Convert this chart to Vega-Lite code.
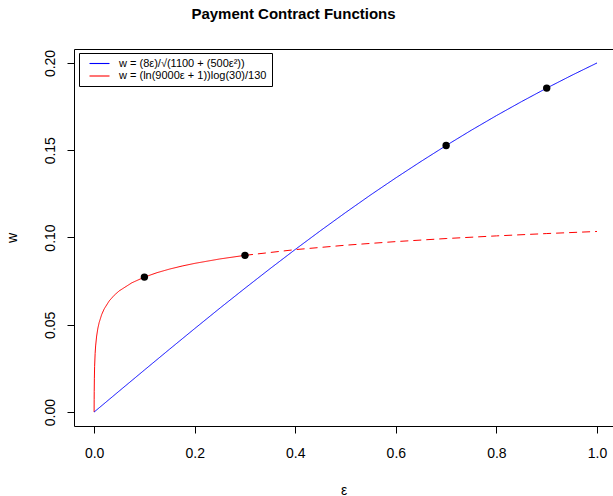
{
  "$schema": "https://vega.github.io/schema/vega-lite/v6.json",
  "autosize": "none",
  "width": 539,
  "height": 377,
  "padding": {"left": 74, "top": 49, "right": 0, "bottom": 70},
  "background": "white",
  "config": {
    "font": "Liberation Sans",
    "view": {"stroke": "black", "strokeWidth": 1},
    "axis": {"grid": false, "domain": false, "tickColor": "black", "tickSize": 7, "labelColor": "black", "labelFontSize": 14, "titleFontSize": 14, "titleFontWeight": "normal", "titleColor": "black", "labelFont": "Liberation Sans", "titleFont": "Liberation Sans"}
  },
  "title": {"text": "Payment Contract Functions", "fontSize": 15, "fontWeight": "bold", "font": "Liberation Sans", "anchor": "middle", "dx": -50, "dy": 14, "offset": 29, "baseline": "alphabetic", "color": "black"},
  "datasets": {
    "curves": [
      {"e": 0, "w": 0, "series": "w = (ln(9000ε + 1))log(30)/130", "seg": "solid"},
      {"e": 0.0001, "w": 0.007293, "series": "w = (ln(9000ε + 1))log(30)/130", "seg": "solid"},
      {"e": 0.0002, "w": 0.011699, "series": "w = (ln(9000ε + 1))log(30)/130", "seg": "solid"},
      {"e": 0.0005, "w": 0.019370, "series": "w = (ln(9000ε + 1))log(30)/130", "seg": "solid"},
      {"e": 0.001, "w": 0.026163, "series": "w = (ln(9000ε + 1))log(30)/130", "seg": "solid"},
      {"e": 0.002, "w": 0.033456, "series": "w = (ln(9000ε + 1))log(30)/130", "seg": "solid"},
      {"e": 0.003, "w": 0.037862, "series": "w = (ln(9000ε + 1))log(30)/130", "seg": "solid"},
      {"e": 0.005, "w": 0.043503, "series": "w = (ln(9000ε + 1))log(30)/130", "seg": "solid"},
      {"e": 0.0075, "w": 0.048027, "series": "w = (ln(9000ε + 1))log(30)/130", "seg": "solid"},
      {"e": 0.01, "w": 0.051254, "series": "w = (ln(9000ε + 1))log(30)/130", "seg": "solid"},
      {"e": 0.015, "w": 0.055820, "series": "w = (ln(9000ε + 1))log(30)/130", "seg": "solid"},
      {"e": 0.02, "w": 0.059068, "series": "w = (ln(9000ε + 1))log(30)/130", "seg": "solid"},
      {"e": 0.03, "w": 0.063654, "series": "w = (ln(9000ε + 1))log(30)/130", "seg": "solid"},
      {"e": 0.04, "w": 0.066912, "series": "w = (ln(9000ε + 1))log(30)/130", "seg": "solid"},
      {"e": 0.05, "w": 0.069441, "series": "w = (ln(9000ε + 1))log(30)/130", "seg": "solid"},
      {"e": 0.075, "w": 0.074040, "series": "w = (ln(9000ε + 1))log(30)/130", "seg": "solid"},
      {"e": 0.1, "w": 0.077305, "series": "w = (ln(9000ε + 1))log(30)/130", "seg": "solid"},
      {"e": 0.125, "w": 0.079837, "series": "w = (ln(9000ε + 1))log(30)/130", "seg": "solid"},
      {"e": 0.15, "w": 0.081907, "series": "w = (ln(9000ε + 1))log(30)/130", "seg": "solid"},
      {"e": 0.175, "w": 0.083658, "series": "w = (ln(9000ε + 1))log(30)/130", "seg": "solid"},
      {"e": 0.2, "w": 0.085174, "series": "w = (ln(9000ε + 1))log(30)/130", "seg": "solid"},
      {"e": 0.25, "w": 0.087708, "series": "w = (ln(9000ε + 1))log(30)/130", "seg": "solid"},
      {"e": 0.3, "w": 0.089779, "series": "w = (ln(9000ε + 1))log(30)/130", "seg": "solid"},
      {"e": 0.3, "w": 0.089779, "series": "w = (ln(9000ε + 1))log(30)/130", "seg": "dashed"},
      {"e": 0.4, "w": 0.093047, "series": "w = (ln(9000ε + 1))log(30)/130", "seg": "dashed"},
      {"e": 0.5, "w": 0.095582, "series": "w = (ln(9000ε + 1))log(30)/130", "seg": "dashed"},
      {"e": 0.6, "w": 0.097653, "series": "w = (ln(9000ε + 1))log(30)/130", "seg": "dashed"},
      {"e": 0.7, "w": 0.099404, "series": "w = (ln(9000ε + 1))log(30)/130", "seg": "dashed"},
      {"e": 0.8, "w": 0.100921, "series": "w = (ln(9000ε + 1))log(30)/130", "seg": "dashed"},
      {"e": 0.9, "w": 0.102260, "series": "w = (ln(9000ε + 1))log(30)/130", "seg": "dashed"},
      {"e": 1.0, "w": 0.103456, "series": "w = (ln(9000ε + 1))log(30)/130", "seg": "dashed"},
      {"e": 0, "w": 0, "series": "w = (8ε)/√(1100 + (500ε²))", "seg": "solid"},
      {"e": 0.05, "w": 0.012058, "series": "w = (8ε)/√(1100 + (500ε²))", "seg": "solid"},
      {"e": 0.1, "w": 0.024066, "series": "w = (8ε)/√(1100 + (500ε²))", "seg": "solid"},
      {"e": 0.15, "w": 0.035999, "series": "w = (8ε)/√(1100 + (500ε²))", "seg": "solid"},
      {"e": 0.2, "w": 0.047809, "series": "w = (8ε)/√(1100 + (500ε²))", "seg": "solid"},
      {"e": 0.25, "w": 0.059499, "series": "w = (8ε)/√(1100 + (500ε²))", "seg": "solid"},
      {"e": 0.3, "w": 0.070927, "series": "w = (8ε)/√(1100 + (500ε²))", "seg": "solid"},
      {"e": 0.35, "w": 0.082173, "series": "w = (8ε)/√(1100 + (500ε²))", "seg": "solid"},
      {"e": 0.4, "w": 0.093155, "series": "w = (8ε)/√(1100 + (500ε²))", "seg": "solid"},
      {"e": 0.45, "w": 0.103861, "series": "w = (8ε)/√(1100 + (500ε²))", "seg": "solid"},
      {"e": 0.5, "w": 0.114286, "series": "w = (8ε)/√(1100 + (500ε²))", "seg": "solid"},
      {"e": 0.55, "w": 0.124421, "series": "w = (8ε)/√(1100 + (500ε²))", "seg": "solid"},
      {"e": 0.6, "w": 0.134164, "series": "w = (8ε)/√(1100 + (500ε²))", "seg": "solid"},
      {"e": 0.65, "w": 0.143578, "series": "w = (8ε)/√(1100 + (500ε²))", "seg": "solid"},
      {"e": 0.7, "w": 0.152696, "series": "w = (8ε)/√(1100 + (500ε²))", "seg": "solid"},
      {"e": 0.75, "w": 0.161449, "series": "w = (8ε)/√(1100 + (500ε²))", "seg": "solid"},
      {"e": 0.8, "w": 0.169839, "series": "w = (8ε)/√(1100 + (500ε²))", "seg": "solid"},
      {"e": 0.85, "w": 0.177871, "series": "w = (8ε)/√(1100 + (500ε²))", "seg": "solid"},
      {"e": 0.9, "w": 0.185594, "series": "w = (8ε)/√(1100 + (500ε²))", "seg": "solid"},
      {"e": 0.95, "w": 0.192955, "series": "w = (8ε)/√(1100 + (500ε²))", "seg": "solid"},
      {"e": 1.0, "w": 0.2, "series": "w = (8ε)/√(1100 + (500ε²))", "seg": "solid"}
    ],
    "pts": [
      {"e": 0.1, "w": 0.077305},
      {"e": 0.3, "w": 0.089779},
      {"e": 0.7, "w": 0.152696},
      {"e": 0.9, "w": 0.185594}
    ]
  },
  "layer": [
    {
      "data": {"name": "curves"},
      "mark": {"type": "line", "strokeWidth": 1, "clip": true},
      "encoding": {
        "x": {"field": "e", "type": "quantitative", "scale": {"domain": [-0.04, 1.0318], "nice": false, "zero": false}, "axis": {"values": [0, 0.2, 0.4, 0.6, 0.8, 1.0], "format": ".1f", "title": "ε", "labelPadding": 13, "titlePadding": 23}},
        "y": {"field": "w", "type": "quantitative", "scale": {"domain": [-0.008, 0.208], "nice": false, "zero": false}, "axis": {"values": [0, 0.05, 0.1, 0.15, 0.2], "format": ".2f", "title": "w", "labelAngle": 270, "labelAlign": "center", "labelBaseline": "bottom", "labelPadding": 10, "titlePadding": 24}},
        "color": {"field": "series", "type": "nominal", "scale": {"domain": ["w = (8ε)/√(1100 + (500ε²))", "w = (ln(9000ε + 1))log(30)/130"], "range": ["#0000ff", "#ff0000"]},
          "legend": {"title": null, "orient": "none", "legendX": 5, "legendY": 4, "symbolType": "M0,-0.11H4V0.11H0Z", "symbolSize": 100, "symbolStrokeWidth": 0, "labelFontSize": 11, "labelFont": "Liberation Sans", "labelColor": "black", "labelOffset": 24, "rowPadding": 0.5, "padding": 5, "strokeColor": "black", "fillColor": "white", "labelLimit": 400,
            "encode": {"symbols": {"update": {"fill": {"scale": "color", "field": "value"}, "fillOpacity": {"value": 1}, "strokeDash": {"value": [1, 0]}}}}}},
        "strokeDash": {"field": "seg", "type": "nominal", "scale": {"domain": ["solid", "dashed"], "range": [[1, 0], [8, 5]]}, "legend": null},
        "order": {"field": "e", "type": "quantitative"}
      }
    },
    {
      "data": {"name": "pts"},
      "mark": {"type": "circle", "size": 55, "color": "black", "opacity": 1},
      "encoding": {
        "x": {"field": "e", "type": "quantitative"},
        "y": {"field": "w", "type": "quantitative"}
      }
    }
  ]
}
